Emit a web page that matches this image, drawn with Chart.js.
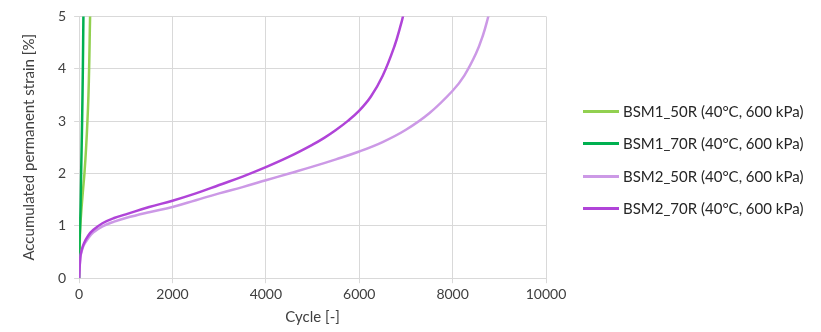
<!DOCTYPE html>
<html><head><meta charset="utf-8">
<script src="https://cdn.jsdelivr.net/npm/chart.js@4"></script>
<style>
html,body{margin:0;padding:0;background:#fff}
#wrap{position:relative;width:821px;height:332px}
#legend{position:absolute;left:583px;top:0;font-family:Lato,sans-serif;font-size:15px;color:#262626}
.item{position:absolute;left:0;height:20px;white-space:nowrap;display:flex;align-items:center}
.swatch{display:inline-block;width:36px;height:3px;margin-right:4px}
</style>
</head><body><div id="wrap"><canvas id="c" width="821" height="332"></canvas><div id="legend"></div></div>
<script>
const seriesNames = ["BSM1_50R (40°C, 600 kPa)", "BSM1_70R (40°C, 600 kPa)", "BSM2_50R (40°C, 600 kPa)", "BSM2_70R (40°C, 600 kPa)"];
const bsm1_50R_cycles = [0, 20, 40, 80, 114, 150, 178, 200, 214, 225, 235, 245];
const bsm1_50R_strain = [0, 0.9, 1.2, 1.65, 2.0, 2.5, 3.0, 3.5, 4.0, 4.5, 5.0, 5.2];
const bsm1_70R_cycles = [0, 5, 21, 43, 64, 80, 92, 95];
const bsm1_70R_strain = [0, 0.6, 1.0, 2.0, 3.0, 4.0, 5.0, 5.2];
const bsm2_50R_cycles = [0, 25, 50, 100, 200, 300, 500, 750, 1000, 1500, 2000, 2500, 3000, 3500, 4000, 4500, 5000, 5500, 6000, 6500, 7000, 7500, 8000, 8250, 8500, 8650, 8750, 8800];
const bsm2_50R_strain = [0, 0.38, 0.5, 0.63, 0.77, 0.87, 0.99, 1.08, 1.15, 1.26, 1.36, 1.49, 1.62, 1.74, 1.87, 2.0, 2.13, 2.27, 2.42, 2.6, 2.835, 3.15, 3.58, 3.87, 4.29, 4.64, 4.95, 5.14];
const bsm2_70R_cycles = [0, 25, 50, 100, 200, 300, 500, 750, 1000, 1500, 2000, 2500, 3000, 3500, 4000, 4500, 5000, 5250, 5500, 5750, 6000, 6250, 6500, 6750, 6900, 6950];
const bsm2_70R_strain = [0, 0.4, 0.52, 0.66, 0.82, 0.92, 1.05, 1.15, 1.22, 1.36, 1.48, 1.62, 1.78, 1.94, 2.12, 2.32, 2.55, 2.68, 2.83, 3.0, 3.2, 3.47, 3.86, 4.42, 4.87, 5.05];
const xTitle = "Cycle [-]";
const yTitle = "Accumulated permanent strain [%]";

function pts(xs, ys){ return xs.map((x,i)=>({x:x, y:ys[i]})); }
const FONT = "Lato";
const colors = ["#92D050", "#00B050", "#CC99E6", "#B044D8"];
const ds = [
  {label: seriesNames[0], data: pts(bsm1_50R_cycles, bsm1_50R_strain), order: 3},
  {label: seriesNames[1], data: pts(bsm1_70R_cycles, bsm1_70R_strain), order: 2},
  {label: seriesNames[2], data: pts(bsm2_50R_cycles, bsm2_50R_strain), order: 1},
  {label: seriesNames[3], data: pts(bsm2_70R_cycles, bsm2_70R_strain), order: 0}
].map((d,i)=>Object.assign(d,{borderColor:colors[i], backgroundColor:colors[i], borderWidth:2.5, pointRadius:0, tension:0.4, fill:false}));

const leg = document.getElementById('legend');
const rowY = [111, 143, 176, 208];
seriesNames.forEach((n,i)=>{
  const it = document.createElement('div'); it.className='item'; it.style.top=(rowY[i]-10)+'px';
  const sw = document.createElement('span'); sw.className='swatch'; sw.style.background=colors[i];
  const tx = document.createElement('span'); tx.textContent = n;
  it.appendChild(sw); it.appendChild(tx); leg.appendChild(it);
});

new Chart(document.getElementById('c'), {
  type: 'scatter',
  data: {datasets: ds},
  options: {
    responsive: false, animation: false, showLine: true,
    layout: {padding: {top: 6, right: 275, left: 16, bottom: 2}},
    plugins: {legend: {display: false}, tooltip: {enabled: false}},
    scales: {
      x: {type: 'linear', min: 0, max: 10000,
        ticks: {stepSize: 2000, color: '#404040', font: {family: FONT, size: 14}, padding: 3, callback: v => String(v)},
        grid: {color: '#d9d9d9', lineWidth: 1, tickLength: 5},
        border: {color: '#d9d9d9'},
        title: {display: true, text: xTitle, color: '#404040', font: {family: FONT, size: 15}, padding: {top: 2}}},
      y: {type: 'linear', min: 0, max: 5,
        ticks: {stepSize: 1, color: '#404040', font: {family: FONT, size: 14}, padding: 8},
        grid: {color: '#d9d9d9', lineWidth: 1, tickLength: 5},
        border: {color: '#d9d9d9'},
        title: {display: true, text: yTitle, color: '#404040', font: {family: FONT, size: 15}, padding: {bottom: 12}}}
    }
  }
});
</script></body></html>
